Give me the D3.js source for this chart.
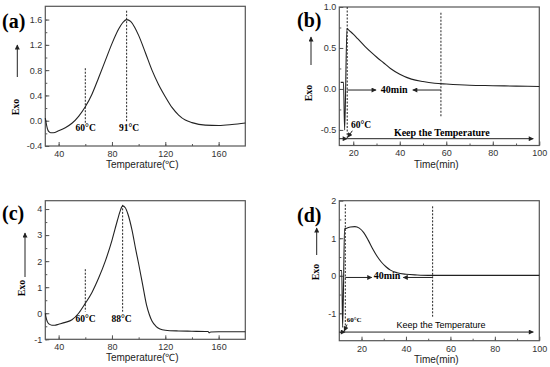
<!DOCTYPE html>
<html>
<head>
<meta charset="utf-8">
<script src="https://cdn.jsdelivr.net/npm/d3@7"></script>
<style>
  body { margin: 0; background: #fff; }
  svg { display: block; }
</style>
</head>
<body>
<div id="chart"></div>
<script>
// (a) DSC heating scan, sample 1
const tempA = [30, 30.5, 31.5, 32.5, 34, 36, 40, 45, 50, 55, 60, 65, 70, 75, 80, 85, 88, 91, 94, 97, 100, 105, 110, 115, 120, 125, 130, 135, 140, 150, 160, 170, 180];
const exoA  = [0.04, -0.02, -0.12, -0.17, -0.19, -0.19, -0.16, -0.11, -0.04, 0.07, 0.22, 0.42, 0.68, 0.95, 1.22, 1.45, 1.55, 1.60, 1.57, 1.48, 1.35, 1.08, 0.80, 0.57, 0.38, 0.21, 0.09, 0.01, -0.03, -0.07, -0.075, -0.06, -0.035];

// (b) isothermal at 60°C, sample 1
const timeB = [14.6, 15.8, 16.3, 17.3, 18, 20, 22, 25, 28, 30, 33, 36, 40, 45, 50, 55, 60, 70, 80, 90, 100];
const exoB  = [0.08, 0.08, -0.5, 0.74, 0.72, 0.67, 0.61, 0.52, 0.44, 0.39, 0.32, 0.25, 0.18, 0.12, 0.09, 0.07, 0.06, 0.045, 0.04, 0.035, 0.03];

// (c) DSC heating scan, sample 2
const tempC = [30, 30.5, 31.5, 33, 35, 37, 40, 45, 50, 55, 60, 65, 70, 75, 80, 84, 86, 88, 90, 92, 95, 98, 100, 103, 106, 108, 110, 113, 116, 120, 130, 140, 150, 152, 153, 154, 160, 170, 180];
const exoC  = [0.0, -0.15, -0.32, -0.42, -0.46, -0.46, -0.42, -0.35, -0.25, 0.0, 0.38, 0.8, 1.35, 2.0, 2.8, 3.55, 3.9, 4.12, 4.05, 3.8, 3.2, 2.4, 1.9, 1.1, 0.3, -0.05, -0.3, -0.5, -0.6, -0.65, -0.68, -0.69, -0.7, -0.7, -0.75, -0.72, -0.71, -0.71, -0.71];

// (d) isothermal at 60°C, sample 2
const timeD = [10.3, 11.1, 11.5, 12.4, 13, 15, 17, 19, 21, 23, 25, 27, 29, 31, 33, 36, 40, 45, 50, 60, 80, 100];
const exoD  = [0.14, 0.14, -1.38, 1.25, 1.26, 1.3, 1.31, 1.27, 1.15, 0.95, 0.72, 0.52, 0.36, 0.24, 0.15, 0.08, 0.04, 0.02, 0.01, 0.01, 0.01, 0.01];

// tick labels
const tempTicks = [40, 80, 120, 160];
const timeTicks = [20, 40, 60, 80, 100];
const ticksA = [-0.4, 0, 0.4, 0.8, 1.2, 1.6];
const ticksB = [-0.5, 0, 0.5, 1.0];
const ticksC = [-1, 0, 1, 2, 3, 4];
const ticksD = [-1, 0, 1, 2];

// marked temperatures / times
const marksA = [60, 91];
const marksC = [60, 88];
const marksB = [17.4, 57.7];
const marksD = [12.7, 52];

const width = 550, height = 367;
const serif = "'Liberation Serif', 'Times New Roman', serif";
const sans = "'Liberation Sans', Arial, sans-serif";

const svg = d3.select("#chart").append("svg")
  .attr("width", width)
  .attr("height", height);

const defs = svg.append("defs");
defs.append("marker")
  .attr("id", "head")
  .attr("viewBox", "0 0 10 10")
  .attr("refX", 9).attr("refY", 5)
  .attr("markerWidth", 6).attr("markerHeight", 5)
  .attr("markerUnits", "userSpaceOnUse")
  .attr("orient", "auto")
  .append("path")
  .attr("d", "M0,0L10,5L0,10z")
  .attr("fill", "#222");

const panels = [
  { id: "(a)", xs: tempA, ys: exoA, xDom: [30, 180], yDom: [-0.4, 1.81],
    box: [45.3, 245.3, 6.3, 146], xTicks: tempTicks, yTicks: ticksA,
    xMinor: d3.range(40, 180, 20), yMinor: d3.range(-0.4, 1.7, 0.2),
    fmt: d => d.toFixed(1), xTitle: "Temperature(\u2103)",
    lbl: [2, 28], exo: [18.5, 107], arrow: [17.3, 77, 45] },
  { id: "(b)", xs: timeB, ys: exoB, xDom: [14, 100], yDom: [-0.69, 1.0],
    box: [339.3, 539.3, 7, 145.5], xTicks: timeTicks, yTicks: ticksB,
    xMinor: d3.range(20, 100, 10), yMinor: d3.range(-0.5, 1.0, 0.25),
    fmt: d => d.toFixed(1), xTitle: "Time(min)",
    lbl: [297, 27], exo: [311.5, 93], arrow: [311, 65, 37] },
  { id: "(c)", xs: tempC, ys: exoC, xDom: [30, 180], yDom: [-1, 4.32],
    box: [45.3, 245.3, 200.7, 339.3], xTicks: tempTicks, yTicks: ticksC,
    xMinor: d3.range(40, 180, 20), yMinor: d3.range(-1, 4.1, 0.5),
    fmt: d => String(d), xTitle: "Temperature(\u2103)",
    lbl: [2, 220], exo: [25, 288], arrow: [25, 277, 233] },
  { id: "(d)", xs: timeD, ys: exoD, xDom: [10, 100], yDom: [-1.73, 2],
    box: [339.3, 539.3, 200.7, 340.7], xTicks: timeTicks, yTicks: ticksD,
    xMinor: d3.range(20, 100, 10), yMinor: d3.range(-1.5, 2, 0.5),
    fmt: d => String(d), xTitle: "Time(min)",
    lbl: [297, 222], exo: [318.5, 272], arrow: [316.7, 255, 228] }
];

function drawPanel(p) {
  const [l, r, t, b] = p.box;
  const x = d3.scaleLinear().domain(p.xDom).range([l, r]);
  const y = d3.scaleLinear().domain(p.yDom).range([b, t]);
  const g = svg.append("g");

  // minor ticks
  g.append("g").attr("transform", `translate(0,${b})`)
    .call(d3.axisBottom(x).tickValues(p.xMinor).tickSize(-2).tickFormat(""));
  g.append("g").attr("transform", `translate(${l},0)`)
    .call(d3.axisLeft(y).tickValues(p.yMinor).tickSize(-2).tickFormat(""));

  // major ticks
  g.append("g").attr("transform", `translate(0,${b})`)
    .call(d3.axisBottom(x).tickValues(p.xTicks).tickSizeInner(-4).tickSizeOuter(0).tickPadding(4.5));
  g.append("g").attr("transform", `translate(${l},0)`)
    .call(d3.axisLeft(y).tickValues(p.yTicks).tickFormat(p.fmt).tickSizeInner(-4).tickSizeOuter(0).tickPadding(3));

  g.selectAll(".domain").remove();
  g.selectAll(".tick line").attr("stroke", "#555");
  g.selectAll(".tick text").attr("font-family", sans).attr("font-size", 9).attr("fill", "#333");

  // frame
  g.append("rect")
    .attr("x", l).attr("y", t)
    .attr("width", r - l).attr("height", b - t)
    .attr("fill", "none").attr("stroke", "#555").attr("stroke-width", 1.2);

  // curve
  const line = d3.line()
    .x((d, i) => x(p.xs[i]))
    .y(d => y(d))
    .curve(d3.curveMonotoneX);
  g.append("path")
    .datum(p.ys)
    .attr("d", line)
    .attr("fill", "none")
    .attr("stroke", "#222")
    .attr("stroke-width", 1.1);

  // axis title
  g.append("text")
    .attr("x", (l + r) / 2 - 3).attr("y", b + 22)
    .attr("text-anchor", "middle")
    .attr("font-family", sans).attr("font-size", 10).attr("fill", "#222")
    .text(p.xTitle);

  // Exo label + arrow
  g.append("text")
    .attr("transform", `translate(${p.exo[0]},${p.exo[1]}) rotate(-90)`)
    .attr("text-anchor", "middle")
    .attr("font-family", serif).attr("font-weight", "bold").attr("font-size", 10)
    .text("Exo");
  g.append("line")
    .attr("x1", p.arrow[0]).attr("x2", p.arrow[0])
    .attr("y1", p.arrow[1]).attr("y2", p.arrow[2])
    .attr("stroke", "#222").attr("stroke-width", 1)
    .attr("marker-end", "url(#head)");

  // panel label
  g.append("text")
    .attr("x", p.lbl[0]).attr("y", p.lbl[1])
    .attr("font-family", serif).attr("font-weight", "bold").attr("font-size", 20)
    .text(p.id);

  return { g, x, y };
}

function dashed(g, x, y, xv, y0, y1) {
  g.append("line")
    .attr("x1", x(xv)).attr("x2", x(xv))
    .attr("y1", y(y0)).attr("y2", y(y1))
    .attr("stroke", "#222").attr("stroke-width", 1)
    .attr("stroke-dasharray", "2,1.5");
}

function label(g, x, y, xv, yv, txt, opts = {}) {
  g.append("text")
    .attr("x", x(xv)).attr("y", y(yv))
    .attr("text-anchor", opts.anchor || "middle")
    .attr("font-family", opts.family || serif)
    .attr("font-weight", opts.weight || "bold")
    .attr("font-size", opts.size || 9.5)
    .text(txt);
}

function arrow(g, x, y, x0, y0, x1, y1) {
  g.append("line")
    .attr("x1", x(x0)).attr("y1", y(y0))
    .attr("x2", x(x1)).attr("y2", y(y1))
    .attr("stroke", "#222").attr("stroke-width", 1)
    .attr("marker-end", "url(#head)");
}

// (a)
let P = drawPanel(panels[0]);
dashed(P.g, P.x, P.y, marksA[0], 0.83, -0.04);
dashed(P.g, P.x, P.y, marksA[1], 1.74, -0.02);
label(P.g, P.x, P.y, 60.3, -0.155, "60°C");
label(P.g, P.x, P.y, 92.8, -0.155, "91°C");

// (b)
P = drawPanel(panels[1]);
dashed(P.g, P.x, P.y, marksB[0], 1.0, -0.6);
dashed(P.g, P.x, P.y, marksB[1], 0.93, -0.34);
arrow(P.g, P.x, P.y, marksB[0], -0.013, 29.8, -0.013);
arrow(P.g, P.x, P.y, marksB[1], -0.013, 45.6, -0.013);
label(P.g, P.x, P.y, 37.6, -0.055, "40min", { size: 10 });
arrow(P.g, P.x, P.y, 14, -0.607, 17.4, -0.607);
arrow(P.g, P.x, P.y, 17.4, -0.607, 97.4, -0.607);
label(P.g, P.x, P.y, 58.1, -0.578, "Keep the Temperature", { size: 10 });
label(P.g, P.x, P.y, 19.0, -0.476, "60°C", { anchor: "start", size: 9.5 });
arrow(P.g, P.x, P.y, 19.6, -0.51, 17.6, -0.59);

// (c)
P = drawPanel(panels[2]);
dashed(P.g, P.x, P.y, marksC[0], 1.69, 0.06);
dashed(P.g, P.x, P.y, marksC[1], 4.16, 0.06);
label(P.g, P.x, P.y, 60.2, -0.35, "60°C");
label(P.g, P.x, P.y, 87.2, -0.35, "88°C");

// (d)
P = drawPanel(panels[3]);
dashed(P.g, P.x, P.y, marksD[0], 1.9, -1.4);
dashed(P.g, P.x, P.y, marksD[1], 1.85, -1.09);
arrow(P.g, P.x, P.y, marksD[0], -0.045, 24.6, -0.045);
arrow(P.g, P.x, P.y, marksD[1], -0.045, 38.8, -0.045);
label(P.g, P.x, P.y, 31.5, -0.085, "40min", { size: 10 });
arrow(P.g, P.x, P.y, 10, -1.5, 12.7, -1.5);
arrow(P.g, P.x, P.y, 12.7, -1.5, 97.3, -1.5);
label(P.g, P.x, P.y, 55.8, -1.4, "Keep the Temperature", { family: sans, weight: "normal", size: 9 });
label(P.g, P.x, P.y, 13.3, -1.24, "60°C", { anchor: "start", size: 7 });
arrow(P.g, P.x, P.y, 13.5, -1.3, 12.2, -1.47);
</script>
</body>
</html>
